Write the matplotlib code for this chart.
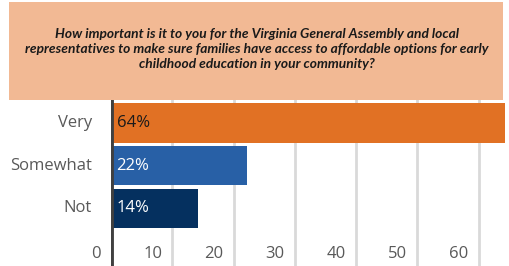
import matplotlib.pyplot as plt
from matplotlib.patches import Rectangle
from matplotlib.transforms import offset_copy

title = ("How important is it to you for the Virginia General Assembly and local\n"
         "representatives to make sure families have access to affordable options for early\n"
         "childhood education in your community?")
categories = ["Very", "Somewhat", "Not"]
values = [64, 22, 14]
labels = ["64%", "22%", "14%"]
colors = ["#E17124", "#2860A6", "#05305F"]
label_colors = ["#1a1a1a", "white", "white"]
xticks = [0, 10, 20, 30, 40, 50, 60]

W, H = 510, 266
fig = plt.figure(figsize=(W / 100, H / 100), dpi=100)
fig.patch.set_facecolor("white")

# title box
fig.patches.append(Rectangle((9 / W, 1 - 100 / H), 494 / W, 98 / H,
                             transform=fig.transFigure, facecolor="#F2B994",
                             edgecolor="none", zorder=0))
fig.text(257 / W, 1 - 49 / H, title, ha="center", va="center", fontsize=9.9,
         fontweight="bold", fontstyle="italic", family="Lato", color="#1a1a1a",
         linespacing=1.32)

ax = fig.add_axes([111 / W, 0, 1 - 111 / W, 1 - 100 / H])
ax.set_xlim(0, 65.1)
ax.set_ylim(3.35, -0.54)
for s in ax.spines.values():
    s.set_visible(False)
ax.set_xticks([])
ax.set_yticks([])

for t in xticks[1:]:
    ax.axvline(t, color="#D9D9D9", lw=2, zorder=0)
ax.axvline(0, color="#404040", lw=3.5, zorder=3)

pos = list(range(len(categories)))
ax.barh(pos, values, height=0.92, color=colors, left=0.25, zorder=2)

for p, lab, c in zip(pos, labels, label_colors):
    ax.text(0.25, p, lab, transform=offset_copy(ax.transData, fig=fig, x=4, y=0, units="dots"),
            ha="left", va="center", fontsize=12, family="Open Sans", color=c, zorder=4)

for p, cat in zip(pos, categories):
    ax.text(0, p, cat, transform=offset_copy(ax.transData, fig=fig, x=-19, y=0, units="dots"),
            ha="right", va="center", fontsize=12, family="Open Sans", color="#595959")

for t in xticks:
    ax.text(t, 3.08, str(t), transform=offset_copy(ax.transData, fig=fig, x=-10, y=0, units="dots"),
            ha="right", va="center", fontsize=12, family="Open Sans", color="#595959")

fig.savefig("out.png", dpi=100)
